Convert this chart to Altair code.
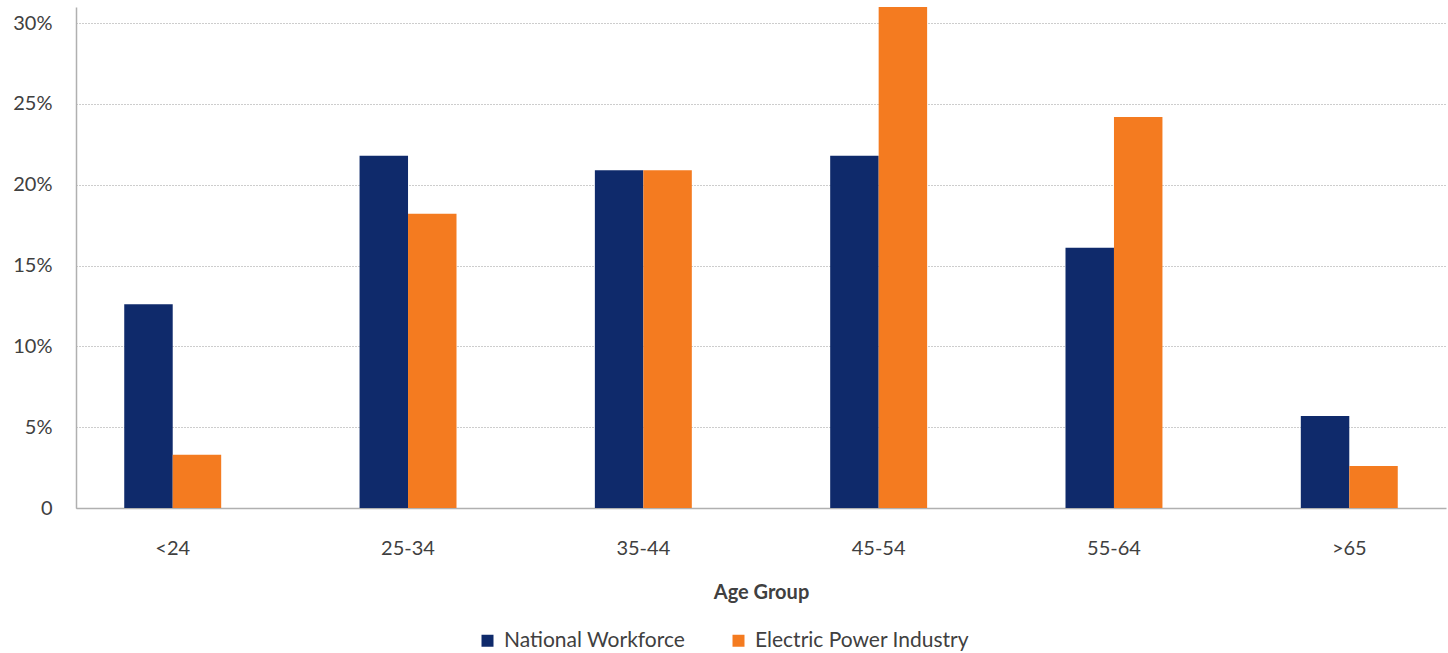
import altair as alt
import pandas as pd

# Share of workers by age group (percent)
age_groups = ["<24", "25-34", "35-44", "45-54", "55-64", ">65"]
national_workforce = [12.6, 21.8, 20.9, 21.8, 16.1, 5.7]
electric_power = [3.3, 18.2, 20.9, 31.0, 24.2, 2.6]

series_names = ["National Workforce", "Electric Power Industry"]
series_colors = ["#0f2a6b", "#f47b20"]

rows = []
for name, values in zip(series_names, [national_workforce, electric_power]):
    for group, v in zip(age_groups, values):
        rows.append({"Age Group": group, "Series": name, "Share": v / 100})
df = pd.DataFrame(rows)

FONT = "Lato"
TEXT = "#404040"

bars = alt.Chart(df).mark_bar().encode(
    x=alt.X(
        "Age Group:N",
        sort=age_groups,
        scale=alt.Scale(paddingInner=0.588, paddingOuter=0.205),
        axis=alt.Axis(
            title="Age Group",
            titleFont=FONT,
            titleFontSize=20,
            titleFontWeight="bold",
            titleColor=TEXT,
            titleY=90,
            titleBaseline="alphabetic",
            labelFont=FONT,
            labelFontSize=20,
            labelColor=TEXT,
            labelPadding=30,
            labelAngle=0,
            ticks=False,
            tickSize=0,
            domainColor="#b0b0b0",
            domainWidth=1.5,
            grid=False,
        ),
    ),
    xOffset=alt.XOffset(
        "Series:N",
        sort=series_names,
        scale=alt.Scale(paddingInner=0, paddingOuter=0),
    ),
    y=alt.Y(
        "Share:Q",
        scale=alt.Scale(domain=[0, 0.31], nice=False, clamp=True),
        axis=alt.Axis(
            title=None,
            values=[0, 0.05, 0.10, 0.15, 0.20, 0.25, 0.30],
            labelExpr="datum.value == 0 ? '0' : format(datum.value, '.0%')",
            labelFont=FONT,
            labelFontSize=20,
            labelColor=TEXT,
            labelPadding=24,
            ticks=False,
            tickSize=0,
            domainColor="#b0b0b0",
            domainWidth=1.5,
            grid=True,
            gridColor="#9a9a9a",
            gridDash=[1, 2],
            gridWidth=1,
        ),
    ),
    color=alt.Color(
        "Series:N",
        sort=series_names,
        scale=alt.Scale(domain=series_names, range=series_colors),
        legend=alt.Legend(
            title=None,
            orient="none",
            legendX=401,
            legendY=623,
            direction="horizontal",
            symbolType="square",
            symbolSize=144,
            symbolStrokeWidth=0,
            symbolOpacity=1,
            labelFont=FONT,
            labelFontSize=21,
            labelColor=TEXT,
            labelOffset=6,
            labelLimit=400,
            columnPadding=42,
            padding=0,
        ),
    ),
)

chart = bars.properties(
    width=1370,
    height=501,
    autosize=alt.AutoSizeParams(type="none"),
    padding={"left": 76, "top": 7, "right": 2, "bottom": 145},
    background="white",
).configure_view(stroke=None)

chart.save("out.html", embed_options={"renderer": "svg", "actions": False})
